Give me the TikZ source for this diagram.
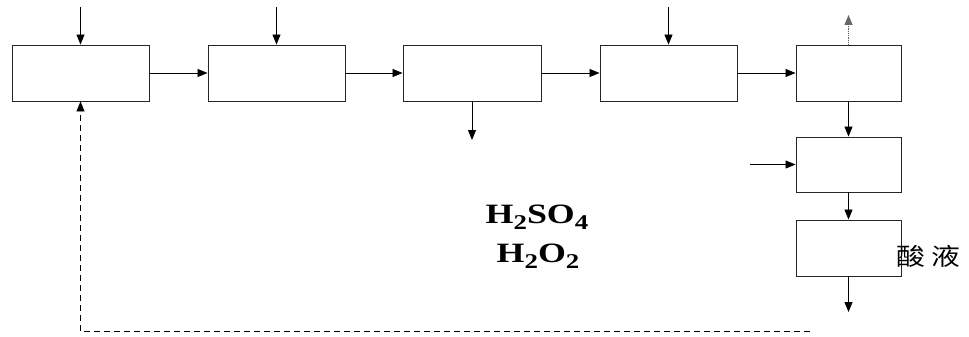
\documentclass[tikz,border=0pt]{standalone}
\usepackage{fontspec}
\setmainfont{Liberation Serif}
\newfontfamily\timesbf{Liberation Serif Bold}
\newfontfamily\cjk{Noto Sans CJK SC}
\usetikzlibrary{arrows.meta}
\newcommand{\chsub}[1]{\raisebox{-0.22em}{\fontsize{21}{21}\selectfont\timesbf #1}}
\begin{document}
\begin{tikzpicture}[x=1pt,y=-1pt,
  box/.style={draw=black!85,line width=0.9pt,rectangle,inner sep=0pt,minimum height=56pt},
  flow/.style={line width=0.8pt,-{Triangle[length=10pt,width=8pt]}},
  formula/.style={anchor=base,inner sep=0pt,font=\fontsize{28}{30}\selectfont\timesbf}]
\useasboundingbox (0,0) rectangle (969,337);
\node[box,minimum width=137pt] (b1) at (80.5,73) {};
\node[box,minimum width=137pt] (b2) at (276.5,73) {};
\node[box,minimum width=138pt] (b3) at (472,73) {};
\node[box,minimum width=137pt] (b4) at (668.5,73) {};
\node[box,minimum width=105pt] (b5) at (848.5,73) {};
\node[box,minimum width=105pt,minimum height=55pt] (b6) at (848.5,164.5) {};
\node[box,minimum width=105pt] (b7) at (848.5,248) {};
\coordinate (t1) at (80.5,7);
\coordinate (t2) at (276.5,7);
\coordinate (t4) at (668.5,7);
\coordinate (t5) at (848.5,15);
\coordinate (o3) at (472,140);
\coordinate (i6) at (750,164.5);
\coordinate (o7) at (848.5,312);
\coordinate (d1) at (810,331);
\draw[flow] (t1) -- (b1.north);
\draw[flow] (t2) -- (b2.north);
\draw[flow] (t4) -- (b4.north);
\draw[flow,draw=black!60,fill=black!60,densely dotted] (b5.north) -- (t5);
\draw[flow] (b1.east) -- (b2.west);
\draw[flow] (b2.east) -- (b3.west);
\draw[flow] (b3.east) -- (b4.west);
\draw[flow] (b4.east) -- (b5.west);
\draw[flow] (b3.south) -- (o3);
\draw[flow] (b5.south) -- (b6.north);
\draw[flow] (i6) -- (b6.west);
\draw[flow] (b6.south) -- (b7.north);
\draw[flow] (b7.south) -- (o7);
\draw[flow,dash pattern=on 6pt off 4pt] (d1) -| (b1.south);
\node[formula] (f1) at (537,223) {\scalebox{1.28}[1]{H\chsub{2}SO\chsub{4}}};
\node[formula] (f2) at (538,262) {\scalebox{1.28}[1]{H\chsub{2}O\chsub{2}}};
\node[inner sep=0pt,font=\fontsize{24}{26}\selectfont] (acid) at (928,256) {\scalebox{1.2}[1]{\cjk 酸\hspace{5pt}液}};
\end{tikzpicture}
\end{document}
